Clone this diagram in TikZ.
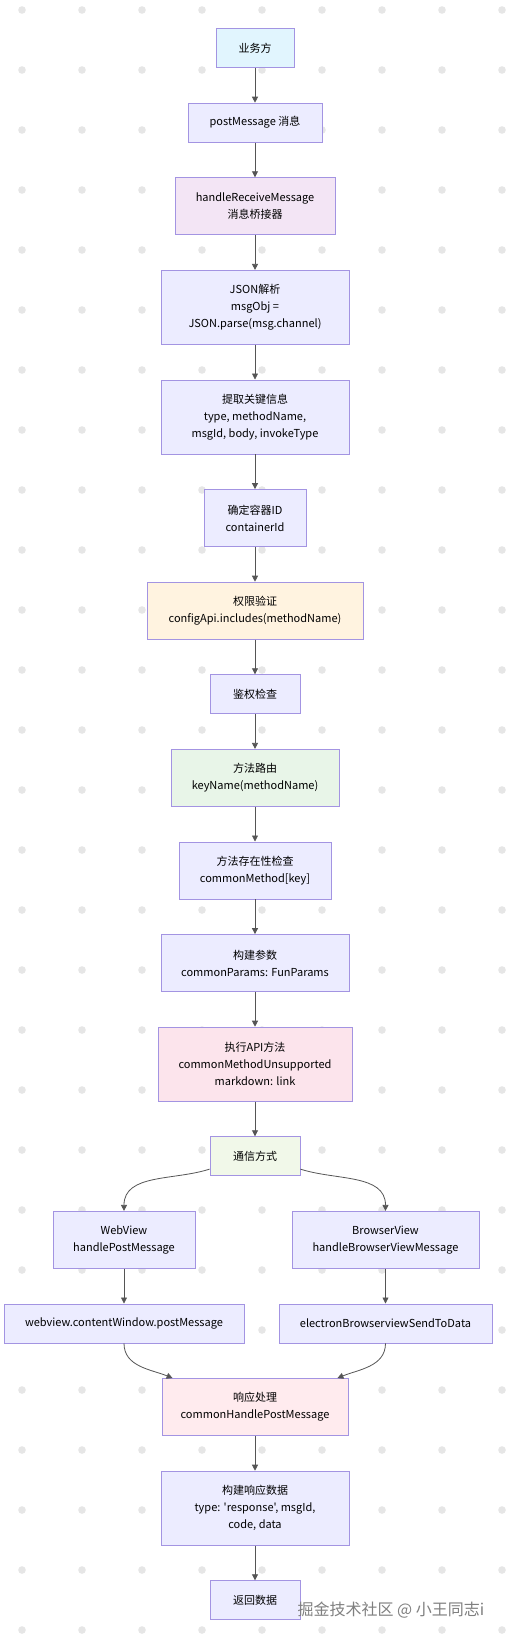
\documentclass[tikz,border=0pt]{standalone}
\usepackage{fontspec}
\newfontfamily\zhfont{Noto Sans CJK SC}
\usepackage{xcolor}
\usepackage{tikz}
\usetikzlibrary{arrows.meta,positioning}

\definecolor{boxfill}{HTML}{ECECFF}
\definecolor{boxline}{HTML}{A394E2}
\definecolor{linec}{HTML}{555555}
\definecolor{dotc}{HTML}{E6E6E6}
\definecolor{bizfill}{HTML}{E1F5FE}
\definecolor{bridgefill}{HTML}{F3E5F5}
\definecolor{permfill}{HTML}{FFF3E0}
\definecolor{routefill}{HTML}{E8F5E8}
\definecolor{execfill}{HTML}{FCE4EC}
\definecolor{commfill}{HTML}{F1F8E9}
\definecolor{respfill}{HTML}{FFEBEE}

\begin{document}
\begin{tikzpicture}[
  x=1pt,y=-1pt,
  node distance=34.8pt,
  box/.style={rectangle,draw=boxline,fill=boxfill,line width=0.8pt,minimum height=39pt,inner xsep=6pt,align=center,font=\zhfont\fontsize{11}{17}\selectfont},
  two/.style={minimum height=57pt},
  three/.style={minimum height=74pt},
  every edge/.style={draw=linec,line width=0.8pt,-{Triangle[length=6pt,width=6pt]}},
  wmark/.style={font=\zhfont\fontsize{16}{18}\selectfont,text=black!50}
]
\useasboundingbox (0,0) rectangle (506,1636);
\fill[white] (0,0) rectangle (506,1636);
% dotted background
\foreach \x in {22,82,...,502}
  \foreach \y in {10,70,...,1630}
    \fill[dotc] (\x,\y) circle (3.8pt);

% main column, top half
\node[box,fill=bizfill,minimum width=78pt] (biz) at (255,48) {业务方};
\node[box,below=of biz,minimum width=134pt] (post) {postMessage 消息};
\node[box,two,fill=bridgefill,below=of post,minimum width=160pt] (bridge) {handleReceiveMessage\\消息桥接器};
\node[box,three,below=of bridge,minimum width=188pt] (json) {JSON解析\\msgObj =\\JSON.parse(msg.channel)};
\node[box,three,below=of json,minimum width=188pt] (extract) {提取关键信息\\type, methodName,\\msgId, body, invokeType};
\node[box,two,below=of extract,minimum width=102pt] (container) {确定容器ID\\containerId};
\node[box,two,fill=permfill,below=of container,minimum width=216pt] (perm) {权限验证\\configApi.includes(methodName)};
\node[box,below=of perm,minimum width=90pt] (auth) {鉴权检查};
\node[box,two,fill=routefill,below=of auth,minimum width=168pt] (route) {方法路由\\keyName(methodName)};
\node[box,two,below=of route,minimum width=152pt] (exist) {方法存在性检查\\commonMethod[key]};
\node[box,two,below=of exist,minimum width=188pt] (params) {构建参数\\commonParams: FunParams};
\node[box,three,fill=execfill,below=of params,minimum width=194pt] (exec) {执行API方法\\commonMethodUnsupported\\markdown: link};
\node[box,fill=commfill,below=of exec,minimum width=90pt] (comm) {通信方式};

% two channels
\node[box,two,below=of comm,xshift=-131pt,minimum width=142pt] (webview) {WebView\\handlePostMessage};
\node[box,two,below=of comm,xshift=130.5pt,minimum width=187pt] (browserview) {BrowserView\\handleBrowserViewMessage};
\node[box,below=of webview,minimum width=240pt] (wcw) {webview.contentWindow.postMessage};
\node[box,below=of browserview,minimum width=213pt] (bcw) {electronBrowserviewSendToData};

% main column, bottom half
\coordinate (mid) at (wcw.south -| comm.south);
\node[box,two,fill=respfill,below=of mid,minimum width=186pt] (resp) {响应处理\\commonHandlePostMessage};
\node[box,three,below=of resp,minimum width=188pt] (resdata) {构建响应数据\\type: 'response', msgId,\\code, data};
\node[box,below=of resdata,minimum width=90pt] (ret) {返回数据};

\node[wmark] (wm) at (391,1610) {掘金技术社区 @ 小王同志i};

% straight transitions
\draw (biz) edge (post);
\draw (post) edge (bridge);
\draw (bridge) edge (json);
\draw (json) edge (extract);
\draw (extract) edge (container);
\draw (container) edge (perm);
\draw (perm) edge (auth);
\draw (auth) edge (route);
\draw (route) edge (exist);
\draw (exist) edge (params);
\draw (params) edge (exec);
\draw (exec) edge (comm);
\draw (webview) edge (wcw);
\draw (browserview) edge (bcw);
\draw (resp) edge (resdata);
\draw (resdata) edge (ret);

% split and merge
\draw ([yshift=7pt]comm.south west) edge[out=198,in=90] (webview.north);
\draw ([yshift=7pt]comm.south east) edge[out=-18,in=90] (browserview.north);
\draw (wcw.south) edge[out=-90,in=158] ([xshift=11pt]resp.north west);
\draw (bcw.south) edge[out=-90,in=22] ([xshift=-11pt]resp.north east);
\end{tikzpicture}
\end{document}
